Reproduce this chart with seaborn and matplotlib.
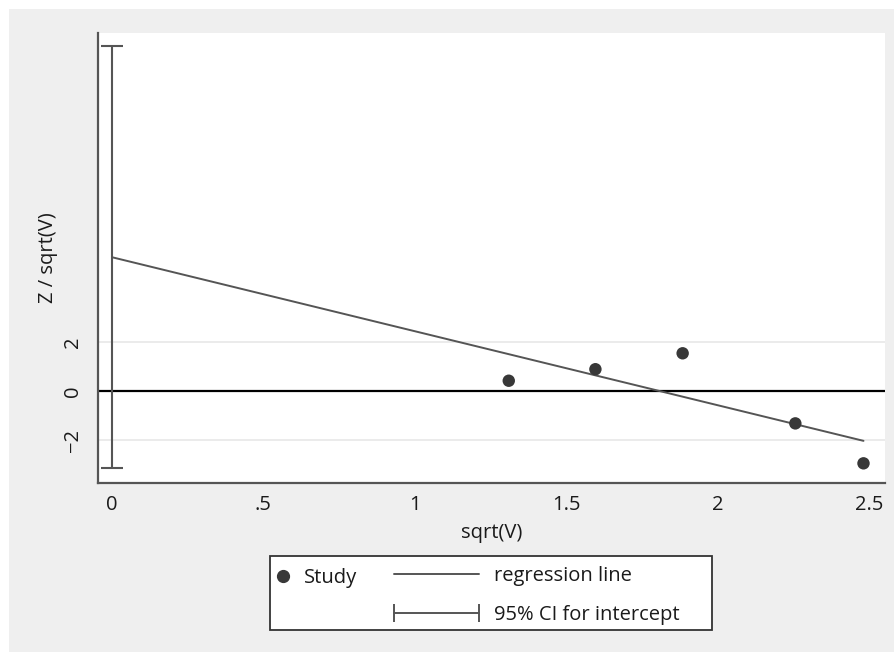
import matplotlib
matplotlib.use('Agg')
import matplotlib.pyplot as plt
from matplotlib.lines import Line2D
from matplotlib.patches import Rectangle
from matplotlib.legend_handler import HandlerLine2D
import seaborn as sns
import pandas as pd
import numpy as np

# study points (Galbraith / Egger plot)
sqrt_v = [1.31, 1.596, 1.884, 2.256, 2.481]
z_over_sqrt_v = [0.42, 0.89, 1.54, -1.32, -2.95]

# regression line and 95% CI for the intercept
reg_intercept = 5.46
reg_slope = -3.02
ci_low, ci_high = -3.16, 14.06

xtick_vals = [0, 0.5, 1, 1.5, 2, 2.5]
xtick_labels = ['0', '.5', '1', '1.5', '2', '2.5']
ytick_vals = [-2, 0, 2]
ytick_labels = ['\u22122', '0', '2']

sns.set_style('white')
plt.rcParams['font.family'] = ['Open Sans', 'DejaVu Sans']

bg = '#efefef'
dark = '#555555'
pt_col = '#383838'
txt = '#1a1a1a'
fs = 14.5

W, H = 894, 652
fig = plt.figure(figsize=(W / 100, H / 100), dpi=100)
fig.patch.set_facecolor('white')
fig.add_artist(Rectangle((9 / W, 0), 1, 1 - 9 / H, transform=fig.transFigure,
                         facecolor=bg, edgecolor='none', zorder=-10))

ax = fig.add_axes([98 / W, (H - 482.7) / H, (885 - 98) / W, (482.7 - 32.7) / H])
ax.set_facecolor('white')

df = pd.DataFrame({'x': sqrt_v, 'y': z_over_sqrt_v})
line_x = [0, max(sqrt_v)]
line_df = pd.DataFrame({'x': line_x,
                        'y': [reg_intercept + reg_slope * v for v in line_x]})

# grid lines at the y ticks, black reference at zero
for yv in ytick_vals:
    if yv != 0:
        ax.axhline(yv, color='#e9e9e9', lw=1.3, zorder=0)
ax.axhline(0, color='black', lw=1.6, zorder=1)

ci_mid = (ci_low + ci_high) / 2
ax.errorbar([0], [ci_mid], yerr=[[ci_mid - ci_low], [ci_high - ci_mid]],
            fmt='none', ecolor=dark, elinewidth=1.5, capsize=7.6,
            capthick=1.5, zorder=2)

sns.lineplot(data=line_df, x='x', y='y', ax=ax, color=dark, lw=1.4, zorder=3)
sns.scatterplot(data=df, x='x', y='y', ax=ax, color=pt_col, s=80,
                edgecolor='none', zorder=4)

ax.set_xlim(-0.046, 2.552)
ax.set_ylim(-3.74, 14.62)
ax.set_xticks(xtick_vals)
ax.set_xticklabels(xtick_labels)
ax.set_yticks(ytick_vals)
ax.set_yticklabels(ytick_labels, rotation=90, va='center')
ax.tick_params(axis='both', length=7, width=1.4, color=dark, labelsize=fs,
               labelcolor=txt)
ax.tick_params(axis='x', pad=2)
ax.tick_params(axis='y', pad=4)
for s in ['top', 'right']:
    ax.spines[s].set_visible(False)
for s in ['left', 'bottom']:
    ax.spines[s].set_color(dark)
    ax.spines[s].set_linewidth(1.6)

ax.set_xlabel('sqrt(V)', fontsize=fs, color=txt, labelpad=5.5)
ax.set_ylabel('Z / sqrt(V)', fontsize=fs, color=txt, labelpad=3.5)

# legend: framed box with two frameless legends inside
fig.add_artist(Rectangle((270 / W, (H - 630) / H), (712 - 270) / W, (630 - 556) / H,
                         transform=fig.transFigure, facecolor='white',
                         edgecolor='#333333', lw=1.3, zorder=5))

study_h = Line2D([], [], ls='none', marker='o', color=pt_col, markersize=8.5)
leg1 = fig.legend([study_h], ['Study'], loc='upper left',
                  bbox_to_anchor=(273 / W, (H - 568) / H), frameon=False,
                  handlelength=1.0, handletextpad=0.55, borderpad=0,
                  borderaxespad=0, fontsize=fs, labelcolor=txt)
leg1.set_zorder(6)

reg_h = Line2D([], [], color=dark, lw=1.4)
ci_h = Line2D([], [], color=dark, lw=1.4, marker='|', markersize=13,
              markeredgewidth=1.4)
leg2 = fig.legend([reg_h, ci_h], ['regression line', '95% CI for intercept'],
                  loc='upper left', bbox_to_anchor=(388 / W, (H - 566) / H),
                  frameon=False, handlelength=4.83, handletextpad=0.45,
                  borderpad=0, borderaxespad=0, labelspacing=0.95, fontsize=fs,
                  labelcolor=txt,
                  handler_map={reg_h: HandlerLine2D(numpoints=2),
                               ci_h: HandlerLine2D(numpoints=2)})
leg2.set_zorder(6)

fig.savefig('out.png', dpi=100, facecolor=fig.get_facecolor())
